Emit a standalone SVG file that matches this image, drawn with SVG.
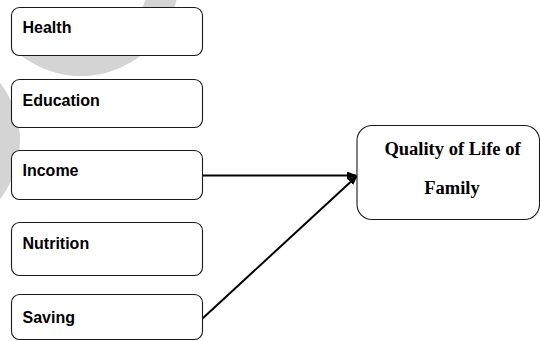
<svg xmlns="http://www.w3.org/2000/svg" width="540" height="341" viewBox="0 0 540 341">
<style>
.box{fill:#fff;stroke:#1a1a1a;stroke-width:1.1}
.lbl{font-family:"Liberation Sans",Arial,sans-serif;font-weight:bold;font-size:16px;fill:#000}
.ttl{font-family:"Liberation Serif","Times New Roman",serif;font-weight:bold;font-size:18.5px;fill:#000;text-anchor:middle}
.wm{fill:#d4d4d4}
.con{stroke:#000;stroke-width:2;fill:none}
</style>
<defs>
<marker id="arr" markerWidth="10" markerHeight="8" refX="9" refY="4" orient="auto" markerUnits="userSpaceOnUse">
<path d="M0,0 L10,4 L0,8 Z" fill="#000"/>
</marker>
<clipPath id="wmclip">
<polygon points="81,-22 -112,208 300,208 300,-200 81,-200"/>
</clipPath>
</defs>
<rect width="540" height="341" fill="#fff"/>
<g id="watermark">
<path class="wm" clip-path="url(#wmclip)" fill-rule="evenodd" d="M81,-120 A98,98 0 1 1 80.99,-120 Z M81,-90 A68,68 0 1 0 81.01,-90 Z"/>
<circle class="wm" cx="-75" cy="141" r="95"/>
</g>
<g id="connectors">
<line class="con" x1="202.5" y1="175.5" x2="356" y2="175.5" marker-end="url(#arr)"/>
<line class="con" x1="202.5" y1="318.5" x2="357" y2="176" marker-end="url(#arr)"/>
</g>
<g id="health">
<rect class="box" x="11.5" y="7.5" width="191" height="48" rx="8"/>
<text class="lbl" x="22.5" y="32.5">Health</text>
</g>
<g id="education">
<rect class="box" x="11.5" y="79.5" width="191" height="48" rx="8"/>
<text class="lbl" x="22.5" y="106">Education</text>
</g>
<g id="income">
<rect class="box" x="11.5" y="150.5" width="191" height="49" rx="8"/>
<text class="lbl" x="22.5" y="175.5">Income</text>
</g>
<g id="nutrition">
<rect class="box" x="11.5" y="222.5" width="191" height="53" rx="8"/>
<text class="lbl" x="22.5" y="249">Nutrition</text>
</g>
<g id="saving">
<rect class="box" x="11.5" y="294.5" width="191" height="45" rx="8"/>
<text class="lbl" x="22.5" y="322.5">Saving</text>
</g>
<g id="quality">
<rect class="box" x="357" y="125.5" width="182.5" height="94" rx="15"/>
<text class="ttl" x="452.5" y="154.5">Quality of Life of</text>
<text class="ttl" x="452" y="194">Family</text>
</g>
</svg>
